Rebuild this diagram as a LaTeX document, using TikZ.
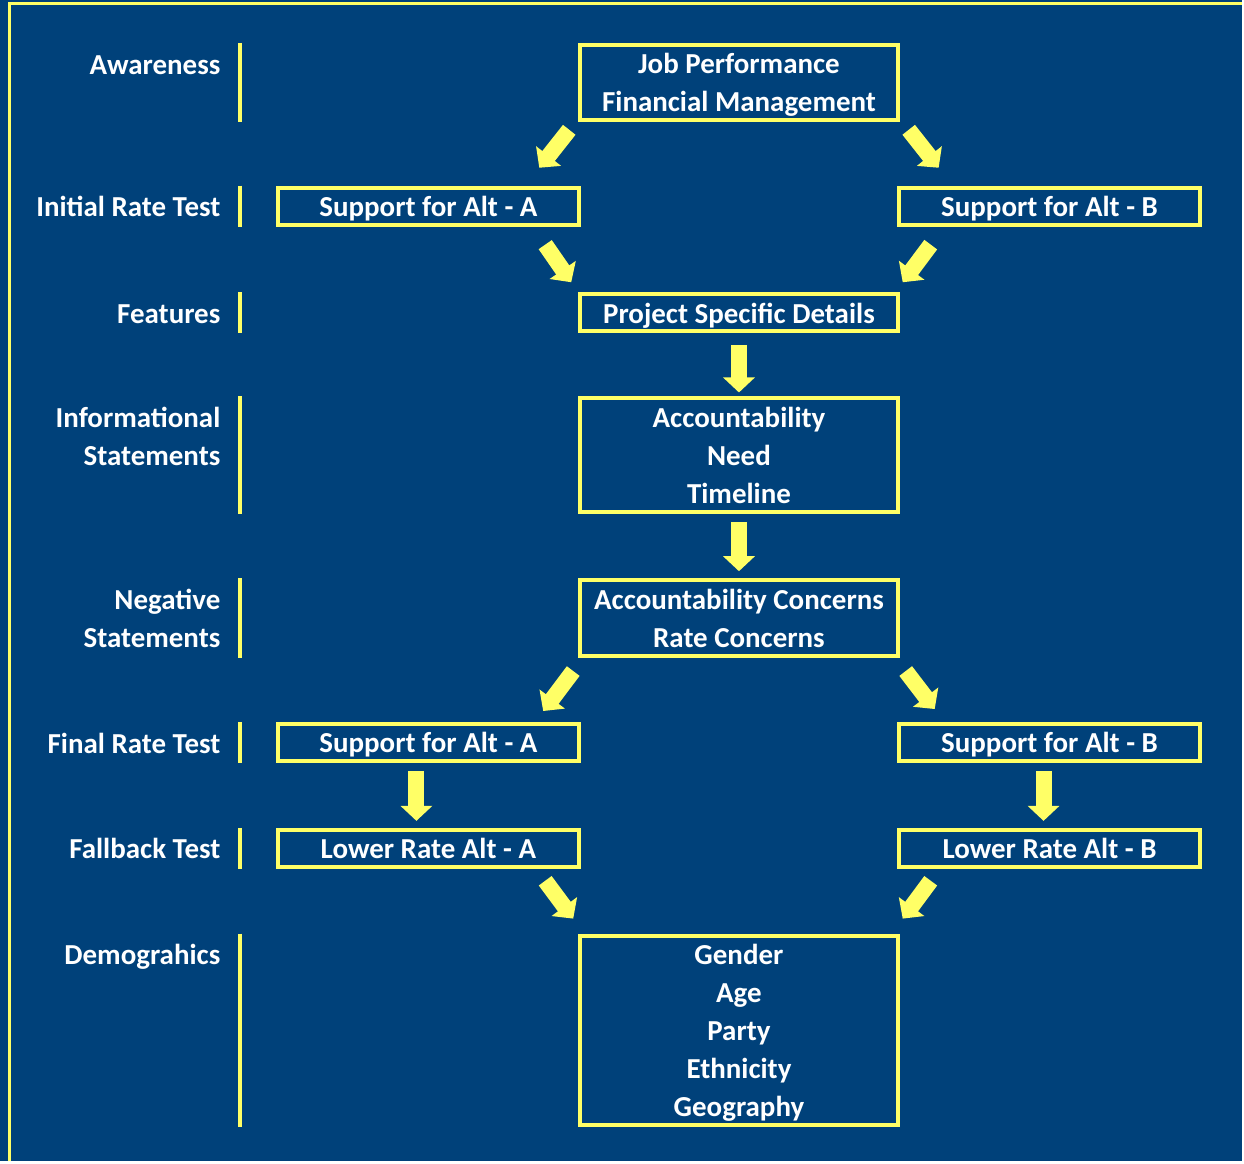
\documentclass[tikz,border=0pt]{standalone}
\usepackage{fontspec}
\setmainfont{Carlito}
\usetikzlibrary{arrows.meta}
\definecolor{navy}{RGB}{0,65,122}
\definecolor{lemon}{RGB}{255,255,102}
\newcommand{\ls}{\rule[-4.5pt]{0pt}{20.9pt}}

\begin{document}
\begin{tikzpicture}[x = 0.02cm, y = -0.02cm,
                      txt/.style = {text = white, font = \bfseries\fontsize{16.5}{21.7}\selectfont, align = center},
                      box/.style = {txt, draw = lemon, line width = 0.08cm, inner sep = 0pt},
                      wide/.style = {box, minimum width = 6.36cm},
                      side/.style = {box, minimum width = 6.04cm, minimum height = 0.74cm},
                      lbl/.style = {txt, align = right, anchor = north east, inner sep = 0pt},
                      bar/.style = {draw = lemon, line width = 0.08cm},
                      flow/.style = {draw = lemon, line width = 0.32cm,
                                     -{Triangle[width = 0.62cm, length = 0.3cm]}}]
    \fill [navy] (0, 0) rectangle (1244, 1163);
    \draw [lemon, line width = 0.07cm] (9.5, 1163) -- (9.5, 3.5) -- (1244, 3.5);

    \coordinate (barx) at (240, 0);
    \coordinate (lblx) at (221, 0);

    % boxes
    \node [wide, minimum height = 1.5cm] (job) at (740, 82.5) {\ls Job Performance\\Financial Management\ls};
    \node [side] (altA) at (429, 206.5) {\ls Support for Alt - A};
    \node [side] (altB) at (1051, 206.5) {\ls Support for Alt - B};
    \node [wide, minimum height = 0.72cm] (details) at (740, 313) {\ls Project Specific Details};
    \node [wide, minimum height = 2.28cm] (info) at (740, 456) {\ls Accountability\\Need\\Timeline\ls};
    \node [wide, minimum height = 1.52cm] (negative) at (740, 619) {\ls Accountability Concerns\\Rate Concerns\ls};
    \node [side] (finalA) at (429, 743.5) {\ls Support for Alt - A};
    \node [side] (finalB) at (1051, 743.5) {\ls Support for Alt - B};
    \node [side] (lowA) at (429, 849.5) {\ls Lower Rate Alt - A};
    \node [side] (lowB) at (1051, 849.5) {\ls Lower Rate Alt - B};
    \node [wide, minimum height = 3.78cm] (demog) at (740, 1031.5) {\ls Gender\\Age\\Party\\Ethnicity\\Geography\ls};

    % row labels
    \node [lbl] (lAware) at ([yshift = -0.04cm]job.north -| lblx) {\ls Awareness};
    \node [lbl] (lInitial) at ([yshift = -0.04cm]altA.north -| lblx) {\ls Initial Rate Test};
    \node [lbl] (lFeatures) at ([yshift = -0.04cm]details.north -| lblx) {\ls Features};
    \node [lbl] (lInfo) at ([yshift = -0.04cm]info.north -| lblx) {\ls Informational\\Statements};
    \node [lbl] (lNeg) at ([yshift = -0.04cm]negative.north -| lblx) {\ls Negative\\Statements};
    \node [lbl] (lFinal) at ([yshift = -0.04cm]finalA.north -| lblx) {\ls Final Rate Test};
    \node [lbl] (lFall) at ([yshift = -0.04cm]lowA.north -| lblx) {\ls Fallback Test};
    \node [lbl] (lDemog) at ([yshift = -0.04cm]demog.north -| lblx) {\ls Demograhics};

    \draw [bar] (job.north -| barx) -- (job.south -| barx);
    \draw [bar] (altA.north -| barx) -- (altA.south -| barx);
    \draw [bar] (details.north -| barx) -- (details.south -| barx);
    \draw [bar] (info.north -| barx) -- (info.south -| barx);
    \draw [bar] (negative.north -| barx) -- (negative.south -| barx);
    \draw [bar] (finalA.north -| barx) -- (finalA.south -| barx);
    \draw [bar] (lowA.north -| barx) -- (lowA.south -| barx);
    \draw [bar] (demog.north -| barx) -- (demog.south -| barx);

    % arrows
    \draw [flow] ([shift = {(-9, 8)}]job.south west) -- ([shift = {(-39, 46)}]job.south west);
    \draw [flow] ([shift = {(9, 8)}]job.south east) -- ([shift = {(39, 46)}]job.south east);
    \draw [flow] ([shift = {(-36, 18)}]altA.south east) -- ([shift = {(-7, -10)}]details.north west);
    \draw [flow] ([shift = {(34, 18)}]altB.south west) -- ([shift = {(3, -10)}]details.north east);
    \draw [flow, shorten < = 0.24cm, shorten > = 0.08cm] (details) -- (info);
    \draw [flow, shorten < = 0.16cm, shorten > = 0.14cm] (info) -- (negative);
    \draw [flow] ([shift = {(-5, 13)}]negative.south west) -- ([shift = {(-38, -11)}]finalA.north east);
    \draw [flow] ([shift = {(6, 13)}]negative.south east) -- ([shift = {(38, -13)}]finalB.north west);
    \draw [flow, shorten < = 0.16cm, shorten > = 0.14cm] ([xshift = -0.24cm]finalA.south) -- ([xshift = -0.24cm]lowA.north);
    \draw [flow, shorten < = 0.16cm, shorten > = 0.14cm] ([xshift = -0.12cm]finalB.south) -- ([xshift = -0.12cm]lowB.north);
    \draw [flow] ([shift = {(-36, 12)}]lowA.south east) -- ([shift = {(-5, -15)}]demog.north west);
    \draw [flow] ([shift = {(34, 12)}]lowB.south west) -- ([shift = {(3, -15)}]demog.north east);
\end{tikzpicture}
\end{document}
